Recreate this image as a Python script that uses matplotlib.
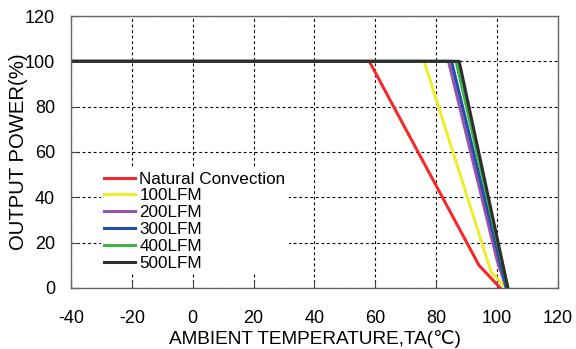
import matplotlib
matplotlib.use("Agg")
import matplotlib.pyplot as plt

plt.rcParams['font.family'] = ['Liberation Sans', 'DejaVu Sans']
plt.rcParams['axes.unicode_minus'] = False

series_names = ["Natural Convection", "100LFM", "200LFM", "300LFM", "400LFM", "500LFM"]
series_x = [
    [-40, 58, 94, 101],
    [-40, 76, 98, 103],
    [-40, 84, 100, 103],
    [-40, 85, 103],
    [-40, 86.5, 103.5],
    [-40, 87.5, 103.5],
]
series_y = [
    [100, 100, 10, 0],
    [100, 100, 7, 0],
    [100, 100, 12, 0],
    [100, 100, 0],
    [100, 100, 0],
    [100, 100, 0],
]
colors = ["#f42a2a", "#eeee30", "#9a52b0", "#1f4ea6", "#3db444", "#2e2e2e"]
x_ticks = [-40, -20, 0, 20, 40, 60, 80, 100, 120]
y_ticks = [0, 20, 40, 60, 80, 100, 120]

fig = plt.figure(figsize=(5.76, 3.49), dpi=100)
ax = fig.add_axes([0.123, 0.175, 0.846, 0.779])

for name, xs, ys, c in zip(series_names, series_x, series_y, colors):
    ax.plot(xs, ys, color=c, lw=2.2, label=name, solid_joinstyle='miter')

ax.set_xlim(-40, 120)
ax.set_ylim(0, 120)
ax.set_xticks(x_ticks)
ax.set_yticks(y_ticks)
ax.tick_params(direction='in', length=5, labelsize=13, color='#444444')
ax.tick_params(axis='x', pad=16)
ax.tick_params(axis='y', pad=11.5)
ax.grid(True, color='black', linestyle=(0, (2.5, 2.5)), linewidth=0.8)
for s in ax.spines.values():
    s.set_color('#666666')
    s.set_linewidth(1.0)

ax.set_xlabel("AMBIENT TEMPERATURE,TA(℃)", fontsize=13.7, labelpad=2)
ax.set_ylabel("OUTPUT POWER(%)", fontsize=14.6, labelpad=-2.5)

leg = ax.legend(loc='lower left', bbox_to_anchor=(0.062, 0.05), frameon=True,
                fontsize=12.3, labelspacing=0.11, handlelength=1.8,
                handletextpad=0.25, borderpad=0.2, borderaxespad=0)
leg.get_frame().set_edgecolor('none')
leg.get_frame().set_facecolor('white')
leg.get_frame().set_alpha(1.0)

fig.savefig("out.png", dpi=100)
